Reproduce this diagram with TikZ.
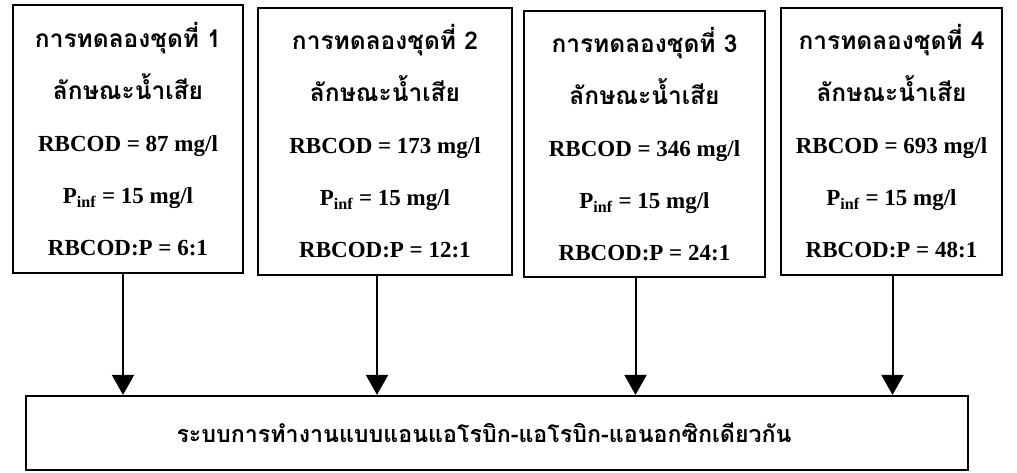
\documentclass[tikz,border=0pt]{standalone}
\usepackage{fontspec}
\setmainfont{Liberation Serif}
\newfontfamily\thaifont[Script=Thai]{Loma}
\usetikzlibrary{arrows.meta}
\tikzset{
  box/.style={draw=black, line width=2.2pt, inner sep=0pt, align=center,
    font=\fontsize{23}{52}\selectfont\bfseries},
  arr/.style={line width=2pt, -{Triangle[width=22pt,length=20pt]}},
}
\newcommand{\thtxt}[1]{{\thaifont\fontsize{24.5}{52}\selectfont\bfseries #1}}
\begin{document}
\begin{tikzpicture}[x=1pt,y=-1pt]
\useasboundingbox (0,0) rectangle (1017,473);
\node[box, minimum width=230pt, minimum height=268pt] (b1) at (128,139)
  {\thtxt{การทดลองชุดที่ 1}\\ \thtxt{ลักษณะน้ำเสีย}\\ RBCOD = 87 mg/l\\ P\textsubscript{inf} = 15 mg/l\\ RBCOD:P = 6:1};
\node[box, minimum width=254pt, minimum height=267pt] (b2) at (385,141.5)
  {\thtxt{การทดลองชุดที่ 2}\\ \thtxt{ลักษณะน้ำเสีย}\\ RBCOD = 173 mg/l\\ P\textsubscript{inf} = 15 mg/l\\ RBCOD:P = 12:1};
\node[box, minimum width=241pt, minimum height=266pt] (b3) at (644.5,144)
  {\thtxt{การทดลองชุดที่ 3}\\ \thtxt{ลักษณะน้ำเสีย}\\ RBCOD = 346 mg/l\\ P\textsubscript{inf} = 15 mg/l\\ RBCOD:P = 24:1};
\node[box, minimum width=221pt, minimum height=267pt] (b4) at (891.5,141.5)
  {\thtxt{การทดลองชุดที่ 4}\\ \thtxt{ลักษณะน้ำเสีย}\\ RBCOD = 693 mg/l\\ P\textsubscript{inf} = 15 mg/l\\ RBCOD:P = 48:1};
\node[box, minimum width=942pt, minimum height=74pt] (sys) at (497,433)
  {{\thaifont\fontsize{23.2}{30}\selectfont\bfseries ระบบการทำงานแบบแอนแอโรบิก-แอโรบิก-แอนอกซิกเดียวกัน}\hspace*{26pt}};
\draw[arr] ([xshift=-5pt]b1.south) -- ([xshift=-5pt]b1.south |- sys.north);
\draw[arr] ([xshift=-8pt]b2.south) -- ([xshift=-8pt]b2.south |- sys.north);
\draw[arr] ([xshift=-9pt]b3.south) -- ([xshift=-9pt]b3.south |- sys.north);
\draw[arr] ([xshift=1pt]b4.south) -- ([xshift=1pt]b4.south |- sys.north);
\end{tikzpicture}
\end{document}
